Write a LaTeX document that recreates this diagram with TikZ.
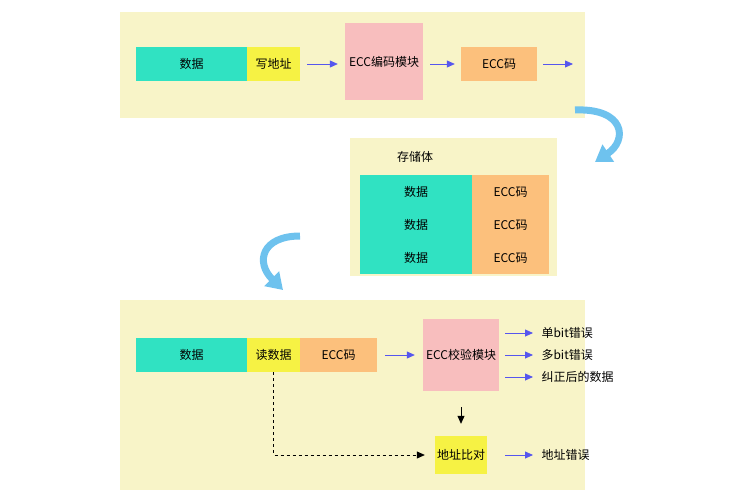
\documentclass[tikz,border=0pt]{standalone}
\usepackage{fontspec}
\setmainfont{Noto Sans CJK SC}
\usetikzlibrary{arrows.meta}
\definecolor{panel}{HTML}{F8F4C8}
\definecolor{datagreen}{HTML}{30E2C2}
\definecolor{addryellow}{HTML}{F6F244}
\definecolor{eccpink}{HTML}{F8BEBE}
\definecolor{eccorange}{HTML}{FCC07C}
\definecolor{flowblue}{HTML}{5656EE}
\definecolor{bendblue}{HTML}{6EC2EE}
\begin{document}
\begin{tikzpicture}[x=1pt,y=-1pt,
				font=\fontsize{12}{14}\selectfont,
				box/.style={draw=none, inner sep=0pt},
				flow/.style={flowblue, thick, -{Triangle[width=7pt,length=8pt]}},
				turn/.style={bendblue, line width=7pt, -{Triangle[width=20pt,length=16pt]}}
			]
			\useasboundingbox (0,0) rectangle (744,500);
			\fill[panel] (120,12) rectangle (585,118);
			\fill[panel] (350,138) rectangle (557,276);
			\fill[panel] (120,300) rectangle (585,490);
			% write path
			\node[box, fill=datagreen, minimum width=111pt, minimum height=34pt] (wdata) at (191.5,64) {数据};
			\node[box, fill=addryellow, minimum width=53pt, minimum height=34pt] (waddr) at (273.5,64) {写地址};
			\node[box, fill=eccpink, minimum width=78pt, minimum height=77pt] (enc) at (384,61.5) {ECC编码模块};
			\node[box, fill=eccorange, minimum width=76pt, minimum height=34pt] (wecc) at (499,64) {ECC码};
			\coordinate (wout) at (573,64);
			\draw[flow] ([xshift=7pt]waddr.east) -- ([xshift=-7pt]enc.west |- waddr.east);
			\draw[flow] ([xshift=7pt]enc.east |- wecc.west) -- ([xshift=-6pt]wecc.west);
			\draw[flow] ([xshift=6pt]wecc.east) -- (wout);
			% storage
			\node (memtitle) at (415,157) {存储体};
			\node[box, fill=datagreen, minimum width=112pt, minimum height=99pt] (memdata) at (416,224.5) {};
			\node[box, fill=eccorange, minimum width=77pt, minimum height=99pt] (memecc) at (510.5,224.5) {};
			\foreach \y/\n in {192/a,225/b,258/c} {
				\node (md\n) at (416,\y) {数据};
				\node (me\n) at (510.5,\y) {ECC码};
			}
			% read path
			\node[box, fill=datagreen, minimum width=111pt, minimum height=34pt] (rdata) at (191.5,355) {数据};
			\node[box, fill=addryellow, minimum width=53pt, minimum height=34pt] (raddr) at (273.5,355) {读数据};
			\node[box, fill=eccorange, minimum width=77pt, minimum height=34pt] (recc) at (338.5,355) {ECC码};
			\node[box, fill=eccpink, minimum width=76pt, minimum height=72pt] (chk) at (461,355) {ECC校验模块};
			\node[box, fill=addryellow, minimum width=52pt, minimum height=38pt] (cmp) at (461,455) {地址比对};
			\node[anchor=west] (single) at (538,333) {单bit错误};
			\node[anchor=west] (multi) at (538,355) {多bit错误};
			\node[anchor=west] (fixed) at (538,377) {纠正后的数据};
			\node[anchor=west] (addrerr) at (538,455) {地址错误};
			\draw[flow] ([xshift=8pt]recc.east) -- ([xshift=-8pt]chk.west);
			\foreach \n in {single,multi,fixed,addrerr}
				\draw[flow] (505,0 |- \n.west) -- ([xshift=-5pt]\n.west);
			\draw[thick, -{Triangle[width=7pt,length=8pt]}] ([yshift=-16pt]chk.south) -- ([yshift=12pt]cmp.north);
			\draw[thick, dashed, -{Triangle[width=7pt,length=8pt]}] (raddr.south) |- ([xshift=-10pt]cmp.west);
			% turns between panels
			\draw[turn] (575,110) .. controls (625,108) and (628,140) .. (595,162);
			\draw[turn] (300,236) .. controls (262,236) and (255,262) .. (283,290);
		\end{tikzpicture}
\end{document}
